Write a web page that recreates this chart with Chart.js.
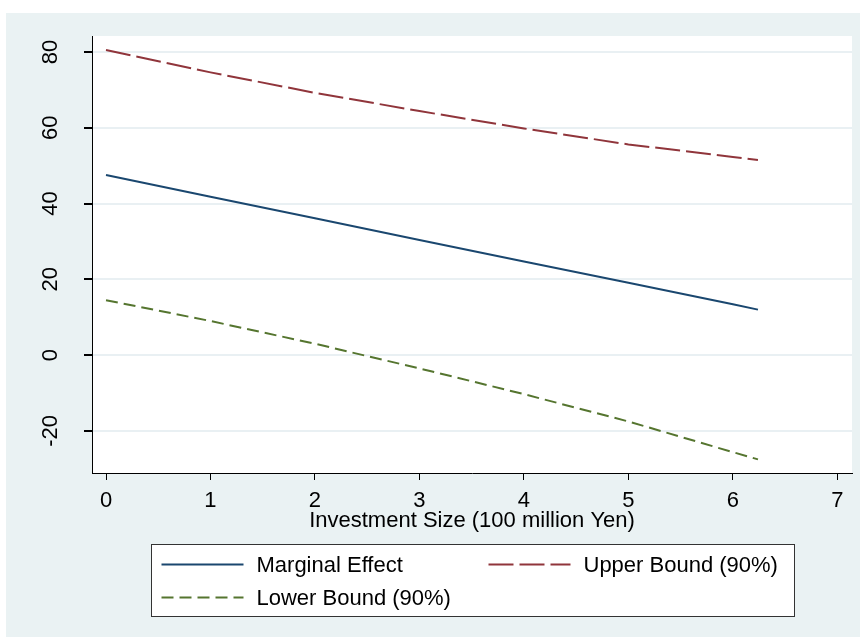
<!DOCTYPE html>
<html>
<head>
<meta charset="utf-8">
<script src="https://cdn.jsdelivr.net/npm/chart.js@4.4.1/dist/chart.umd.min.js"></script>
<style>
  html, body { margin: 0; padding: 0; background: #fff; }
  #wrap { width: 860px; height: 637px; }
</style>
</head>
<body>
<div id="wrap"><canvas id="graphCanvas" width="860" height="637"></canvas></div>
<script>
//////////////// data ////////////////
var invSize        = [0, 1, 2, 3, 4, 5, 6, 6.24];
var marginalEffect = [47.5, 41.8, 36.1, 30.4, 24.7, 19.1, 13.4, 12.0];
var upperBound     = [80.5, 74.6, 69.2, 64.4, 59.8, 55.6, 52.3, 51.5];
var lowerBound     = [14.5, 9.0, 3.0, -3.5, -10.3, -17.5, -25.6, -27.5];
var seriesNames    = ["Marginal Effect", "Upper Bound (90%)", "Lower Bound (90%)"];
var xTicks = [0, 1, 2, 3, 4, 5, 6, 7];
var yTicks = [-20, 0, 20, 40, 60, 80];
var xTitle = "Investment Size (100 million Yen)";

var FONT = "'Liberation Sans', Arial, sans-serif";
var BG = "#eaf2f3";

function toPoints(ys) {
    var pts = [];
    for (var i in invSize) {
        pts.push({x: invSize[i], y: ys[i]});
    }
    return pts;
}

// stata-like background: light outer region, white plot region
var backdrop = {
    id: 'backdrop',
    beforeDraw: function (chart) {
        var ctx = chart.ctx, a = chart.chartArea;
        ctx.save();
        ctx.fillStyle = "#fff";
        ctx.fillRect(0, 0, chart.width, chart.height);
        ctx.fillStyle = BG;
        ctx.fillRect(6, 13, chart.width - 6, chart.height - 13);
        ctx.fillStyle = "#fff";
        ctx.fillRect(a.left, a.top, a.right - a.left, a.bottom - a.top);
        ctx.restore();
    }
};

// boxed legend under the axis title, two columns
var boxLegend = {
    id: 'boxLegend',
    afterDraw: function (chart) {
        var ctx = chart.ctx, a = chart.chartArea;
        var w = 643, h = 72;
        var left = Math.round((a.left + a.right) / 2 - w / 2) + 0.5;
        var top = 544.5;
        ctx.save();
        ctx.fillStyle = "#fff";
        ctx.fillRect(left, top, w, h);
        ctx.strokeStyle = "#333";
        ctx.lineWidth = 1;
        ctx.strokeRect(left, top, w, h);
        ctx.font = "22px " + FONT;
        ctx.textBaseline = "middle";
        ctx.fillStyle = "#000";
        chart.data.datasets.forEach(function (ds, i) {
            var col = i % 2, row = Math.floor(i / 2);
            var x0 = left + 10 + col * 327;
            var y0 = Math.round(top + 19 + row * 33) + 0.5;
            ctx.strokeStyle = ds.borderColor;
            ctx.lineWidth = ds.borderWidth;
            ctx.setLineDash(ds.borderDash || []);
            ctx.beginPath();
            ctx.moveTo(x0, y0);
            ctx.lineTo(x0 + 82, y0);
            ctx.stroke();
            ctx.setLineDash([]);
            ctx.fillText(ds.label, x0 + 95, y0 + 1);
        });
        ctx.restore();
    }
};

var chartdata = {
    datasets: [
        {
            label: seriesNames[0],
            data: toPoints(marginalEffect),
            borderColor: "#1a476f",
            borderWidth: 2,
            borderDash: []
        },
        {
            label: seriesNames[1],
            data: toPoints(upperBound),
            borderColor: "#90353b",
            borderWidth: 2,
            borderDash: [25, 6]
        },
        {
            label: seriesNames[2],
            data: toPoints(lowerBound),
            borderColor: "#55752f",
            borderWidth: 2,
            borderDash: [12, 6]
        }
    ]
};

var lineGraph = new Chart(document.getElementById("graphCanvas"), {
    type: 'line',
    data: chartdata,
    plugins: [backdrop, boxLegend],
    options: {
        responsive: false,
        animation: false,
        devicePixelRatio: 1,
        layout: { padding: { left: 0, top: 36, right: 8, bottom: 103 } },
        elements: {
            point: { radius: 0 },
            line: { tension: 0, fill: false }
        },
        plugins: {
            legend: { display: false },
            tooltip: { enabled: false }
        },
        scales: {
            x: {
                type: 'linear',
                min: -0.134,
                max: 7.14,
                afterBuildTicks: function (axis) {
                    axis.ticks = xTicks.map(function (v) { return {value: v}; });
                },
                afterFit: function (axis) { axis.height = 61; },
                border: { display: true, color: "#000", width: 1 },
                grid: {
                    drawOnChartArea: false,
                    drawTicks: true,
                    tickLength: 7,
                    tickColor: "#000"
                },
                ticks: {
                    color: "#000",
                    padding: 8,
                    maxRotation: 0,
                    font: { family: FONT, size: 22 }
                },
                title: {
                    display: true,
                    text: xTitle,
                    color: "#000",
                    padding: { top: 0, bottom: 0 },
                    font: { family: FONT, size: 22 }
                }
            },
            y: {
                type: 'linear',
                min: -31.1,
                max: 84.2,
                afterBuildTicks: function (axis) {
                    axis.ticks = yTicks.map(function (v) { return {value: v}; });
                },
                afterFit: function (axis) { axis.width = 92; },
                border: { display: true, color: "#000", width: 1 },
                grid: {
                    color: "#e9f0f3",
                    lineWidth: 2,
                    drawTicks: true,
                    tickLength: 8,
                    tickColor: "#000"
                },
                ticks: {
                    color: "#000",
                    padding: 17,
                    minRotation: 90,
                    maxRotation: 90,
                    crossAlign: 'center',
                    font: { family: FONT, size: 22 }
                }
            }
        }
    }
});
</script>
</body>
</html>
